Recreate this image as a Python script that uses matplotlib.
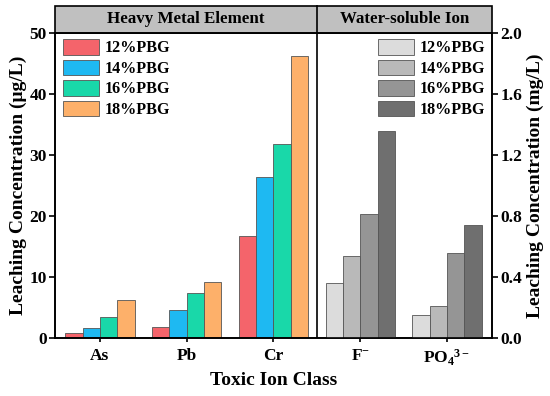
import matplotlib
matplotlib.use("Agg")
import matplotlib.pyplot as plt
from matplotlib.patches import Rectangle
from matplotlib.ticker import FormatStrFormatter
from matplotlib.transforms import blended_transform_factory
import numpy as np

plt.rcParams['font.family'] = ['Liberation Serif', 'DejaVu Serif']
plt.rcParams['font.weight'] = 'bold'
plt.rcParams['mathtext.fontset'] = 'custom'
plt.rcParams['mathtext.rm'] = 'Liberation Serif:bold'
plt.rcParams['mathtext.bf'] = 'Liberation Serif:bold'
plt.rcParams['mathtext.it'] = 'Liberation Serif:bold'
plt.rcParams['mathtext.default'] = 'rm'

# Data
series = ['12%PBG', '14%PBG', '16%PBG', '18%PBG']
metal_cats = ['As', 'Pb', 'Cr']
metal_vals = {
    '12%PBG': [0.8, 1.8, 16.8],
    '14%PBG': [1.7, 4.6, 26.4],
    '16%PBG': [3.5, 7.4, 31.8],
    '18%PBG': [6.2, 9.2, 46.2],
}
ion_cats = ['F$^{-}$', 'PO$_4$$^{3-}$']
ion_vals = {
    '12%PBG': [0.36, 0.15],
    '14%PBG': [0.54, 0.21],
    '16%PBG': [0.81, 0.56],
    '18%PBG': [1.36, 0.74],
}
metal_colors = ['#F4646B', '#1EB9F2', '#19D8A9', '#FDB06A']
ion_colors = ['#DCDCDC', '#B9B9B9', '#959595', '#6F6F6F']

fig = plt.figure(figsize=(5.5, 3.96), dpi=100)
ax = fig.add_axes([0.1, 0.1465, 0.7945, 0.7702])
ax2 = ax.twinx()

x_m = np.arange(1, len(metal_cats) + 1)
x_i = np.arange(len(metal_cats) + 1, len(metal_cats) + len(ion_cats) + 1)
w = 0.2
offsets = [-1.5 * w, -0.5 * w, 0.5 * w, 1.5 * w]

mh = []
for s, c, o in zip(series, metal_colors, offsets):
    b = ax.bar(x_m + o, metal_vals[s], width=w, color=c, edgecolor='#555555', linewidth=0.6, label=s)
    mh.append(b)
ih = []
for s, c, o in zip(series, ion_colors, offsets):
    b = ax2.bar(x_i + o, ion_vals[s], width=w, color=c, edgecolor='#555555', linewidth=0.6, label=s)
    ih.append(b)

ax.set_xlim(0.483, 5.517)
ax.set_ylim(0, 50)
ax2.set_ylim(0, 2.0)
ax.set_yticks([0, 10, 20, 30, 40, 50])
ax2.set_yticks([0, 0.4, 0.8, 1.2, 1.6, 2.0])
ax2.yaxis.set_major_formatter(FormatStrFormatter('%.1f'))

ax.set_xticks(list(x_m) + list(x_i))
ax.set_xticklabels(metal_cats + ion_cats)

for a in (ax, ax2):
    a.tick_params(axis='both', direction='out', labelsize=12.5, width=1.2, length=4, pad=2)
    for sp in a.spines.values():
        sp.set_linewidth(1.2)
ax.tick_params(axis='x', length=3, pad=4)

ax.set_ylabel('Leaching Concentration (μg/L)', fontsize=14, fontweight='bold', labelpad=2)
ax2.set_ylabel('Leaching Concentration (mg/L)', fontsize=14, fontweight='bold', labelpad=3)
ax.set_xlabel('Toxic Ion Class', fontsize=14, fontweight='bold', labelpad=3)

# divider
div = 3.5
ax.axvline(div, color='black', linewidth=1.2, zorder=5)

# header band
hh = 27 / 305
hdr = Rectangle((0, 1), 1, hh, transform=ax.transAxes, facecolor='#C0C0C0',
                edgecolor='black', linewidth=1.2, clip_on=False, zorder=5)
ax.add_patch(hdr)
tr = blended_transform_factory(ax.transData, ax.transAxes)
ax.plot([div, div], [1, 1 + hh], transform=tr, color='black', linewidth=1.2, clip_on=False, zorder=6)
ax.text((0.483 + div) / 2, 1 + hh / 2, 'Heavy Metal Element', transform=tr, ha='center', va='center',
        fontsize=12.2, fontweight='bold', zorder=7)
ax.text((div + 5.517) / 2, 1 + hh / 2, 'Water-soluble Ion', transform=tr, ha='center', va='center',
        fontsize=12.2, fontweight='bold', zorder=7)

leg_kw = dict(frameon=False, fontsize=11.6, handlelength=2.2, handleheight=1.1, labelspacing=0.2,
              handletextpad=0.4, borderaxespad=0.0, borderpad=0.2)
leg1 = ax.legend(mh, series, loc='upper left', bbox_to_anchor=(0.0115, 0.99), **leg_kw)
leg2 = ax2.legend(ih, series, loc='upper right', bbox_to_anchor=(0.993, 0.99), **leg_kw)

fig.savefig('out.png', dpi=100)
